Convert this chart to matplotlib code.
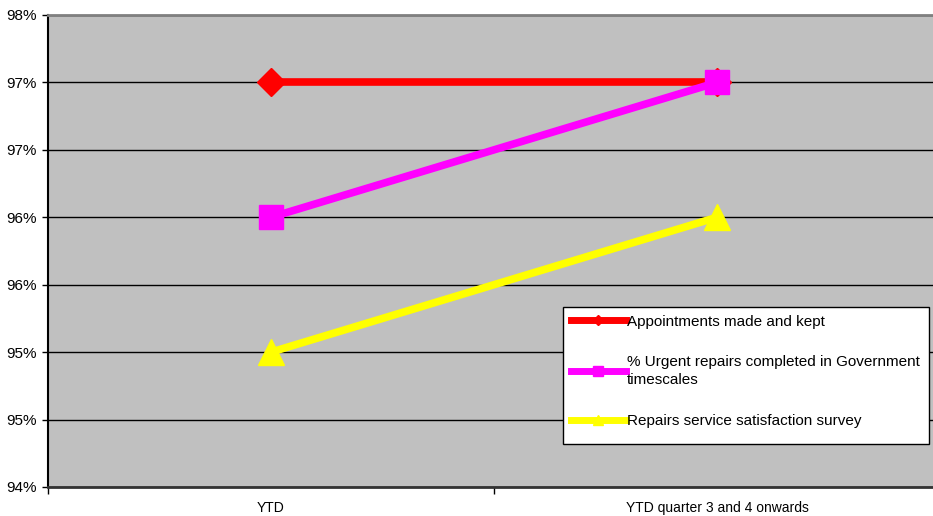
import matplotlib.pyplot as plt
from matplotlib.lines import Line2D
from matplotlib.patches import Rectangle
from matplotlib.ticker import FixedLocator, FixedFormatter

plt.rcParams['font.family'] = ['Liberation Sans', 'DejaVu Sans']

# data
categories = ['YTD', 'YTD quarter 3 and 4 onwards']
appointments = [97.0, 97.0]
urgent = [96.0, 97.0]
satisfaction = [95.0, 96.0]
series_names = ['Appointments made and kept',
                '% Urgent repairs completed in Government\ntimescales',
                'Repairs service satisfaction survey']
y_ticks = [94.0, 94.5, 95.0, 95.5, 96.0, 96.5, 97.0, 97.5]
y_labels = ['94%', '95%', '95%', '96%', '96%', '97%', '97%', '98%']

W, H = 933, 516
fig = plt.figure(figsize=(W / 100, H / 100), dpi=100)
ax = fig.add_axes([48 / W, (H - 487) / H, (940 - 48) / W, (487 - 15) / H])
ax.set_facecolor('#C0C0C0')

x = list(range(len(categories)))
ax.plot(x, appointments, color='#FF0000', lw=5.5, marker='D', ms=14, zorder=3, solid_capstyle='butt')
ax.plot(x, urgent, color='#FF00FF', lw=5.5, marker='s', ms=17, zorder=4, solid_capstyle='butt')
ax.plot(x, satisfaction, color='#FFFF00', lw=5.5, marker='^', ms=19, zorder=5, solid_capstyle='butt')

ax.set_xlim(-0.5, 1.5)
ax.set_ylim(94.0, 97.5)
ax.yaxis.set_major_locator(FixedLocator(y_ticks))
ax.yaxis.set_major_formatter(FixedFormatter(y_labels))
ax.set_xticks([-0.5, 0.5, 1.5])
ax.set_xticklabels([])
ax.set_xticks(x, minor=True)
ax.set_xticklabels(categories, minor=True)
ax.tick_params(axis='x', which='minor', length=0, pad=10, labelsize=10)
ax.tick_params(axis='x', which='major', length=5, width=1, direction='out', color='black')
ax.tick_params(axis='y', length=4, width=1, direction='out', labelsize=11, pad=4)
ax.grid(axis='y', color='black', lw=1)
ax.set_axisbelow(True)

ax.spines['top'].set_color('#808080')
ax.spines['top'].set_linewidth(2)
ax.spines['right'].set_visible(False)
ax.spines['left'].set_color('black')
ax.spines['left'].set_linewidth(1.5)
ax.spines['bottom'].set_color('#333333')
ax.spines['bottom'].set_linewidth(2)

# legend box (Excel style: fixed size frame with entries at the top)
fig.add_artist(Rectangle((563 / W, 1 - 444 / H), 366 / W, 137 / H,
                         transform=fig.transFigure, facecolor='white',
                         edgecolor='black', lw=1, zorder=4))
handles = [
    Line2D([], [], color='#FF0000', lw=5, marker='D', ms=5),
    Line2D([], [], color='#FF00FF', lw=5, marker='s', ms=7),
    Line2D([], [], color='#FFFF00', lw=5, marker='^', ms=7),
]
leg = fig.legend(handles, series_names, loc='upper left',
                 bbox_to_anchor=(563 / W, 1 - 307 / H),
                 frameon=False, fontsize=11, handlelength=3.6, handletextpad=0.1,
                 labelspacing=1.75, borderpad=0.5, borderaxespad=0)
leg.set_zorder(5)
for t in leg.get_texts():
    t.set_linespacing(1.35)

fig.savefig('out.png', dpi=100)
